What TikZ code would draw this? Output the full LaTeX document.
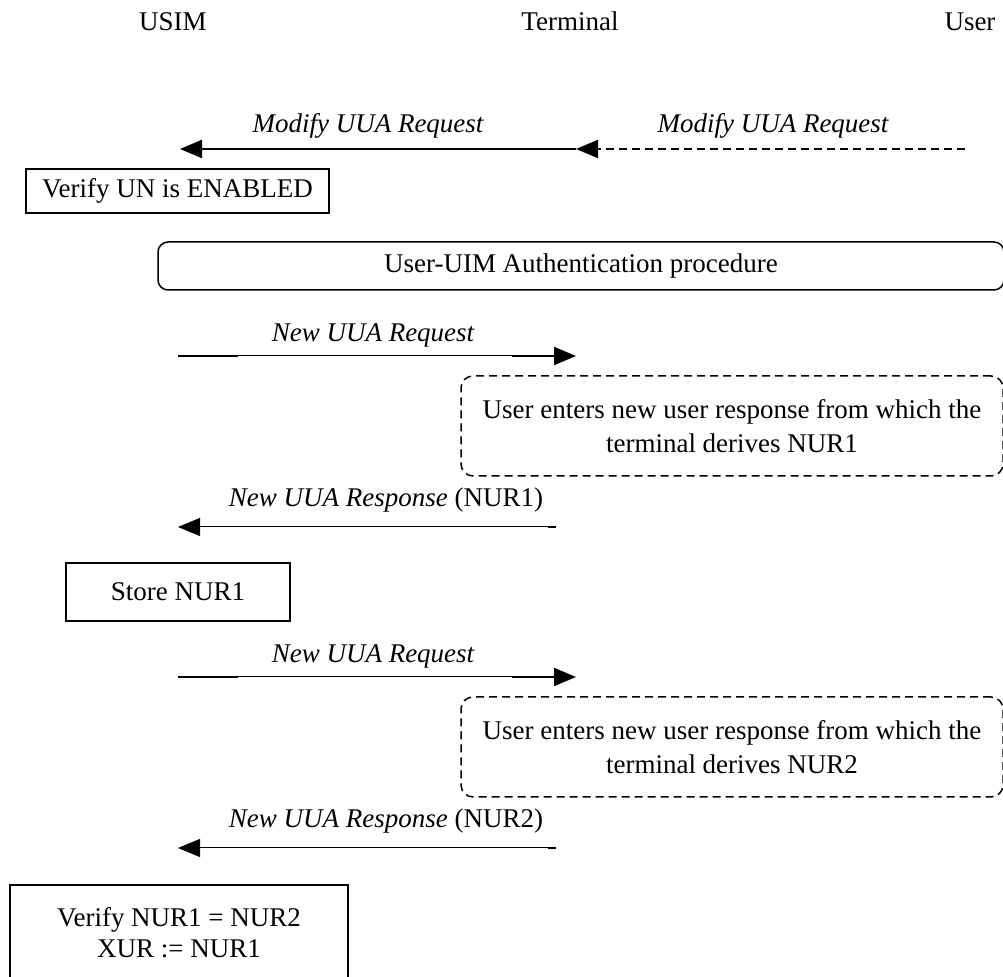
\documentclass[tikz,border=0pt]{standalone}
\usepackage{fontspec}
\setmainfont{Liberation Serif}
\usetikzlibrary{arrows.meta}
\tikzset{
  txt/.style={font=\fontsize{13.5}{15.5}\selectfont, inner sep=0pt},
  lbl/.style={txt, font=\fontsize{13.5}{15.5}\selectfont\itshape, anchor=base},
  hdr/.style={txt, anchor=base},
  box/.style={draw, line width=0.75pt, inner sep=0pt, align=center, txt},
  rbox/.style={box, rounded corners=5pt},
  dbox/.style={box, rounded corners=6pt, dash pattern=on 4pt off 2.5pt,
    font=\fontsize{13.5}{17}\selectfont},
  tip/.style={-{Triangle[length=11pt,width=9pt]}},
  heavy/.style={line width=1pt},
  light/.style={line width=0.5pt},
}
\begin{document}
\begin{tikzpicture}[x=0.5pt,y=-0.5pt]
\useasboundingbox (0,0) rectangle (1003,977);

% entities
\node[hdr] (usim) at (173,31) {USIM};
\node[hdr] (term) at (570,31) {Terminal};
\node[hdr] (user) at (970,31) {User};

% Modify UUA Request: user -> terminal -> USIM
\coordinate (m0) at (965,149);
\coordinate (m1) at (576,149);
\coordinate (m2) at (180,149);
\draw[heavy, tip, dash pattern=on 4pt off 2.5pt] (m0) -- (m1);
\draw[heavy, tip] (m1) -- (m2);
\node[lbl] (ml1) at (368,133) {Modify UUA Request};
\node[lbl] (ml2) at (773,133) {Modify UUA Request};

\node[box, minimum width=151.5pt, minimum height=22pt] (vun) at (177.5,191) {Verify UN is ENABLED};

\node[rbox, minimum width=423pt, minimum height=24pt] (auth) at (581,266) {User-UIM Authentication procedure};

% New UUA Request #1
\coordinate (a0) at (178,356);
\coordinate (a1) at (238,356);
\coordinate (a2) at (512,356);
\coordinate (a3) at (576,356);
\draw[light] (a0) -- (a2);
\draw[heavy] (a0) -- (a1);
\draw[heavy, tip] (a2) -- (a3);
\node[lbl] (al) at (373,342) {New UUA Request};

\node[dbox, minimum width=271pt, minimum height=50pt] (ue1) at (732,426)
  {User enters new user response from which the\\terminal derives NUR1};

% New UUA Response #1
\coordinate (r0) at (556,527);
\coordinate (r1) at (548,527);
\coordinate (r2) at (178,527);
\draw[light, tip] (r0) -- (r2);
\draw[heavy] (r0) -- (r1);
\node[hdr] (rl) at (386,507) {\itshape New UUA Response\upshape{} (NUR1)};

\node[box, minimum width=112pt, minimum height=29pt] (store) at (178,592) {Store NUR1};

% New UUA Request #2
\coordinate (b0) at (178,677);
\coordinate (b1) at (238,677);
\coordinate (b2) at (512,677);
\coordinate (b3) at (576,677);
\draw[light] (b0) -- (b2);
\draw[heavy] (b0) -- (b1);
\draw[heavy, tip] (b2) -- (b3);
\node[lbl] (bl) at (373,663) {New UUA Request};

\node[dbox, minimum width=271pt, minimum height=50pt] (ue2) at (732,747)
  {User enters new user response from which the\\terminal derives NUR2};

% New UUA Response #2
\coordinate (s0) at (556,848);
\coordinate (s1) at (548,848);
\coordinate (s2) at (178,848);
\draw[light, tip] (s0) -- (s2);
\draw[heavy] (s0) -- (s1);
\node[hdr] (sl) at (386,828) {\itshape New UUA Response\upshape{} (NUR2)};

\node[box, minimum width=169pt, minimum height=47.5pt] (ver) at (179,932.5)
  {Verify NUR1 = NUR2\\XUR := NUR1};
\end{tikzpicture}
\end{document}
